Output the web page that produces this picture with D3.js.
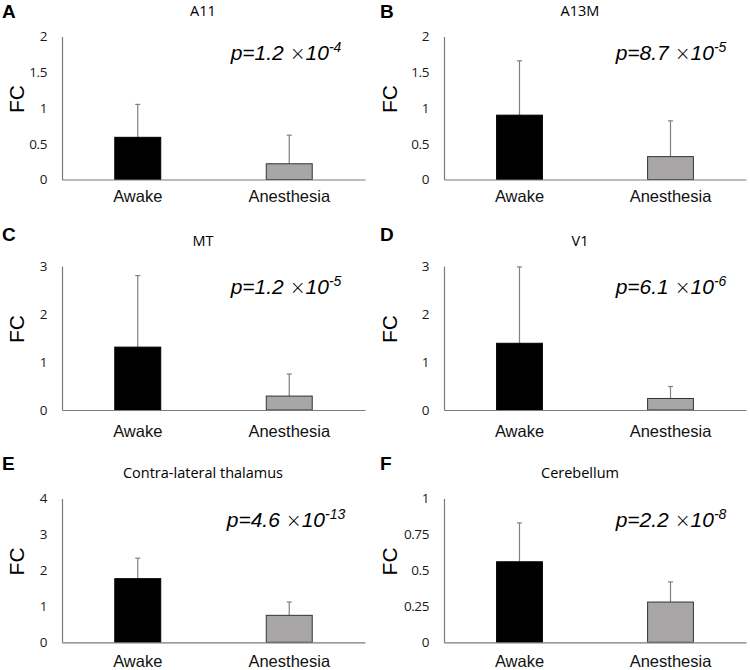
<!DOCTYPE html>
<html>
<head>
<meta charset="utf-8">
<script src="https://cdn.jsdelivr.net/npm/d3@7"></script>
<style>
  html, body { margin: 0; padding: 0; background: #fff; }
  svg { display: block; }
</style>
</head>
<body>
<svg id="chart" width="750" height="670"></svg>
<script>
// ---------- data ----------
const panelLetters = ["A", "B", "C", "D", "E", "F"];
const panelTitles = ["A11", "A13M", "MT", "V1", "Contra-lateral thalamus", "Cerebellum"];
const categories = ["Awake", "Anesthesia"];
const awakeMean = [0.59, 0.90, 1.31, 1.39, 1.77, 0.56];
const awakeErr  = [0.46, 0.76, 1.49, 1.59, 0.57, 0.27];
const anesMean  = [0.22, 0.32, 0.29, 0.24, 0.75, 0.28];
const anesErr   = [0.40, 0.50, 0.46, 0.25, 0.37, 0.14];
const yMax = [2, 2, 3, 3, 4, 1];
const yTicks = [
  [0, 0.5, 1, 1.5, 2],
  [0, 0.5, 1, 1.5, 2],
  [0, 1, 2, 3],
  [0, 1, 2, 3],
  [0, 1, 2, 3, 4],
  [0, 0.25, 0.5, 0.75, 1]
];
const pMantissa = ["1.2", "8.7", "1.2", "6.1", "4.6", "2.2"];
const pExponent = ["-4", "-5", "-5", "-6", "-13", "-8"];
const yLabel = "FC";

// ---------- layout ----------
const rows = [
  { top: 36.5, bottom: 179.5, letter: 18, title: 16, p: 60, cat: 10.3 },
  { top: 266, bottom: 410, letter: 241, title: 246, p: 294, cat: 14.8 },
  { top: 498.5, bottom: 642.3, letter: 470, title: 478, p: 527, cat: 13.3 }
];
const cols = [
  { letterX: 2, axisX: 62, axisEnd: 365, titleX: 203, pX: 286, fcX: 24 },
  { letterX: 380, axisX: 444, axisEnd: 746, titleX: 580, pX: 671, fcX: 397 }
];

const svg = d3.select("#chart");
svg.append("rect").attr("width", 750).attr("height", 670).attr("fill", "#fff");

const axisColor = "#7a7a7a";
const tickFont = "'Open Sans', sans-serif";
const arialFont = "'Liberation Sans', Arial, sans-serif";

panelLetters.forEach((letter, i) => {
  const r = rows[Math.floor(i / 2)];
  const c = cols[i % 2];
  const g = svg.append("g");

  const x = d3.scaleBand().domain(categories).range([c.axisX, c.axisEnd])
    .paddingInner(0.69).paddingOuter(0.345);
  const y = d3.scaleLinear().domain([0, yMax[i]]).range([r.bottom, r.top]);

  // panel letter
  g.append("text").attr("x", c.letterX).attr("y", r.letter)
    .attr("font-family", arialFont).attr("font-weight", "bold")
    .attr("font-size", 19).attr("fill", "#000").text(letter);

  // title
  g.append("text").attr("x", c.titleX).attr("y", r.title)
    .attr("text-anchor", "middle").attr("font-family", tickFont)
    .attr("font-size", 14.5).attr("fill", "#000").text(panelTitles[i]);

  // y axis
  const ya = g.append("g").attr("transform", `translate(${c.axisX},0)`)
    .call(d3.axisLeft(y).tickValues(yTicks[i]).tickSize(0).tickSizeOuter(0)
      .tickPadding(15).tickFormat(d => String(d)));
  ya.select(".domain").attr("stroke", axisColor).attr("stroke-width", 1.2);
  ya.selectAll("text").attr("font-family", tickFont).attr("font-size", 13.5)
    .attr("fill", "#1a1a1a").attr("letter-spacing", "-0.4px");

  // bars
  const data = [
    { cat: categories[0], mean: awakeMean[i], err: awakeErr[i], fill: "#000", stroke: "#000" },
    { cat: categories[1], mean: anesMean[i], err: anesErr[i], fill: "#a8a6a6", stroke: "#333" }
  ];
  const bw = x.bandwidth();

  data.forEach(d => {
    const cx = x(d.cat) + bw / 2;
    g.append("line").attr("x1", cx).attr("x2", cx)
      .attr("y1", y(d.mean)).attr("y2", y(d.mean + d.err))
      .attr("stroke", "#808080").attr("stroke-width", 1.2);
    g.append("line").attr("x1", cx - 2.5).attr("x2", cx + 2.5)
      .attr("y1", y(d.mean + d.err)).attr("y2", y(d.mean + d.err))
      .attr("stroke", "#808080").attr("stroke-width", 1.2);
  });

  g.selectAll("rect.bar").data(data).enter().append("rect")
    .attr("class", "bar")
    .attr("x", d => x(d.cat) + 0.5)
    .attr("width", bw - 1)
    .attr("y", d => y(d.mean))
    .attr("height", d => y(0) - y(d.mean))
    .attr("fill", d => d.fill)
    .attr("stroke", d => d.stroke)
    .attr("stroke-width", 1);

  // x axis
  const xa = g.append("g").attr("transform", `translate(0,${r.bottom})`)
    .call(d3.axisBottom(x).tickSize(0).tickSizeOuter(0).tickPadding(r.cat));
  xa.select(".domain").attr("stroke", axisColor).attr("stroke-width", 1.2);
  xa.selectAll("text").attr("font-family", arialFont).attr("font-size", 16.5)
    .attr("fill", "#111");

  // y label
  const fcY = (r.top + r.bottom) / 2 - 9;
  g.append("text")
    .attr("transform", `translate(${c.fcX},${fcY}) rotate(-90)`)
    .attr("text-anchor", "middle").attr("font-family", arialFont)
    .attr("font-size", 21).attr("fill", "#000").text(yLabel);

  // p-value
  const pt = g.append("text").attr("x", c.pX).attr("y", r.p)
    .attr("text-anchor", "middle").attr("font-family", arialFont)
    .attr("font-style", "italic").attr("font-size", 21).attr("fill", "#000");
  pt.append("tspan").text(`p=${pMantissa[i]} `);
  pt.append("tspan").attr("font-family", "'DejaVu Sans', sans-serif")
    .attr("font-weight", 200).attr("font-style", "normal")
    .attr("font-size", 19).text("\u00D7");
  pt.append("tspan").text("10");
  pt.append("tspan").attr("dy", -8).attr("font-size", 14).text(pExponent[i]);
});
</script>
</body>
</html>
